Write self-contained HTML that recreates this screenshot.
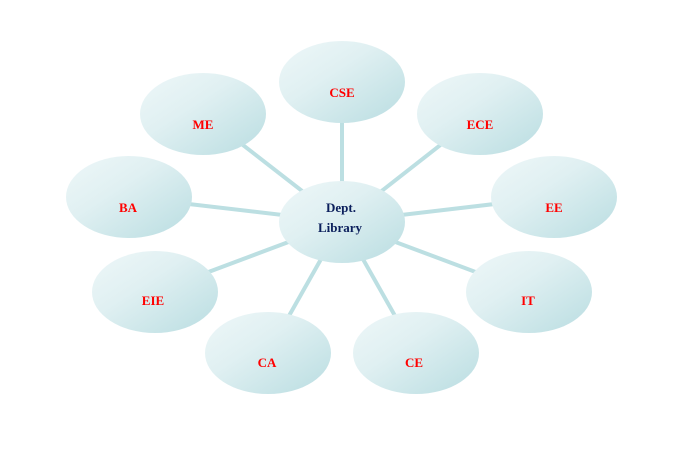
<!DOCTYPE html>
<html><head><style>body{margin:0;background:#fff}</style></head><body>
<svg width="684" height="444" xmlns="http://www.w3.org/2000/svg">
<defs><linearGradient id="g" x1="0" y1="0" x2="1" y2="1">
<stop offset="0" stop-color="#eef7f8"/><stop offset="0.4" stop-color="#e0f0f2"/><stop offset="1" stop-color="#b9dde1"/></linearGradient></defs>
<g stroke="#bcdfe2" stroke-width="4">
<line x1="342" y1="222" x2="342" y2="82"/><line x1="342" y1="222" x2="480" y2="114"/>
<line x1="342" y1="222" x2="554" y2="197"/><line x1="342" y1="222" x2="529" y2="292"/>
<line x1="342" y1="222" x2="416" y2="353"/><line x1="342" y1="222" x2="268" y2="353"/>
<line x1="342" y1="222" x2="155" y2="292"/><line x1="342" y1="222" x2="129" y2="197"/>
<line x1="342" y1="222" x2="203" y2="114"/></g>
<g fill="url(#g)">
<ellipse cx="342" cy="82" rx="63" ry="41"/><ellipse cx="480" cy="114" rx="63" ry="41"/>
<ellipse cx="554" cy="197" rx="63" ry="41"/><ellipse cx="529" cy="292" rx="63" ry="41"/>
<ellipse cx="416" cy="353" rx="63" ry="41"/><ellipse cx="268" cy="353" rx="63" ry="41"/>
<ellipse cx="155" cy="292" rx="63" ry="41"/><ellipse cx="129" cy="197" rx="63" ry="41"/>
<ellipse cx="203" cy="114" rx="63" ry="41"/><ellipse cx="342" cy="222" rx="63" ry="41"/></g>
<g font-family="Liberation Serif, serif" font-weight="bold" font-size="13" fill="#ff0000" text-anchor="middle">
<text x="342" y="97">CSE</text><text x="480" y="129">ECE</text><text x="554" y="212">EE</text>
<text x="528" y="305">IT</text><text x="414" y="367">CE</text><text x="267" y="367">CA</text>
<text x="153" y="305">EIE</text><text x="128" y="212">BA</text><text x="203" y="129">ME</text></g>
<g font-family="Liberation Serif, serif" font-weight="bold" font-size="13" fill="#0b1f5c" text-anchor="middle">
<text x="341" y="212">Dept.</text><text x="340" y="232">Library</text></g>
</svg></body></html>
